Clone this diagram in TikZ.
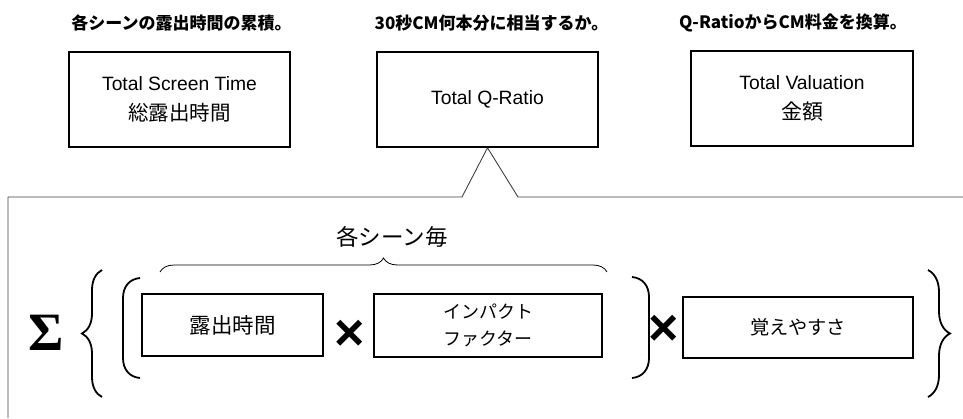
\documentclass[tikz,border=0pt]{standalone}
\usepackage{fontspec}
\setmainfont{Liberation Sans}
\newfontfamily\jp{Noto Sans CJK JP}
\newfontfamily\sigfont{Liberation Serif}
\usetikzlibrary{decorations.pathreplacing}
\begin{document}
\begin{tikzpicture}[x=1pt,y=-1pt,
  topbox/.style={draw, line width=1.6pt, minimum width=221pt, minimum height=95pt, inner sep=0pt, align=center, font=\fontsize{19.3}{30.5}\selectfont},
  factbox/.style={draw, line width=1.6pt, inner sep=0pt, align=center, font=\jp\fontsize{19}{28}\selectfont},
  titletext/.style={font=\jp\bfseries\fontsize{17}{20}\selectfont, inner sep=0pt},
  bigbrace/.style={decorate, decoration={brace, amplitude=#1}, line width=1.8pt},
  thinbrace/.style={decorate, decoration={brace, amplitude=14pt}, line width=0.8pt},
  paren/.style={line width=1.8pt},
  callout/.style={line width=0.9pt, draw=black!75, line join=bevel},
  timessign/.style={font=\bfseries\fontsize{52}{52}\selectfont, inner sep=0pt},
]
\useasboundingbox (0,0) rectangle (963,418);

% titles
\node[titletext] (t1) at (181.5,23) {各シーンの露出時間の累積。};
\node[titletext] (t2) at (491.5,23) {30秒CM何本分に相当するか。};
\node[titletext] (t3) at (793,23) {Q-RatioからCM料金を換算。};

% top boxes
\node[topbox] (b1) at (179.5,99.5) {Total Screen Time\\{\jp\fontsize{20.5}{30.5}\selectfont 総露出時間}};
\node[topbox] (b2) at (487.5,99.5) {Total Q-Ratio};
\node[topbox, minimum width=222pt] (b3) at (802,98.5) {Total Valuation\\{\jp\fontsize{21}{30.5}\selectfont 金額}};

% callout outline
\draw[callout] (8,418) -- (8,197) -- (462,197) -- (b2.south) -- (518,197) -- (963,197);

% formula
\node[inner sep=0pt, font=\sigfont\bfseries\fontsize{54}{54}\selectfont] (sig) at (46.5,333) {Σ};
\draw[bigbrace=20pt] (102,397) -- (102,270);
\draw[bigbrace=22pt] (928,270) -- (928,397);

\draw[paren] (140,278) .. controls (129,279) and (123,287) .. (123,298) -- (123,358) .. controls (123,369) and (129,377) .. (140,378);
\draw[paren] (632,277) .. controls (643,278) and (649,286) .. (649,297) -- (649,358) .. controls (649,369) and (643,377) .. (632,378);

\node[factbox, minimum width=181pt, minimum height=62pt, font=\jp\fontsize{21.5}{28}\selectfont] (d1) at (232.5,325) {露出時間};
\node[factbox, minimum width=228pt, minimum height=63pt, font=\jp\fontsize{18}{27}\selectfont] (d2) at (488,325.5) {インパクト\\ファクター};
\node[factbox, minimum width=230pt, minimum height=61pt, font=\jp\fontsize{19.2}{28}\selectfont] (d3) at (798,327.5) {覚えやすさ};

\node[timessign] (m1) at (350,335) {×};
\node[timessign] (m2) at (664,330) {×};

\draw[thinbrace] (160,272) -- (607,272);
\node[inner sep=0pt, font=\jp\fontsize{22.5}{24}\selectfont] (each) at (392,237) {各シーン毎};
\end{tikzpicture}
\end{document}
